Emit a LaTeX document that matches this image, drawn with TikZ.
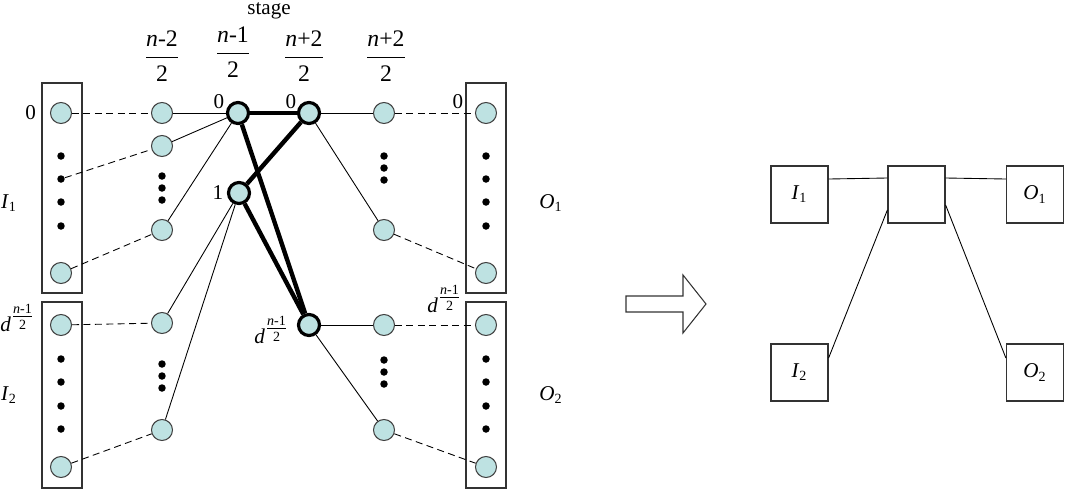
\documentclass[tikz,border=0pt]{standalone}
\usepackage{amsmath}
\usepackage{fontspec}
\setmainfont{Liberation Serif}
\usetikzlibrary{positioning, backgrounds}
\definecolor{vfill}{RGB}{190,226,226}
\newcommand{\idx}[2]{\textit{#1}\textsubscript{#2}}
\newcommand{\stfrac}[1]{{\fontsize{13.5}{16}\selectfont$\dfrac{\text{\textit{n}#1}}{\text{2}}$}}
\newcommand{\dpow}{\textit{d}$^{\genfrac{}{}{}{1}{\text{\textit{n}-1}}{\text{2}}}$}

\begin{document}
\begin{tikzpicture}[
    x=0.02cm, y=-0.02cm,
    font=\fontsize{12}{14}\selectfont,
    vtx/.style={circle, draw=black!75, fill=vfill, line width=0.6pt, minimum size=0.42cm, inner sep=0pt},
    hub/.style={vtx, draw=black, line width=1.8pt},
    dot/.style={circle, fill=black, minimum size=0.15cm, inner sep=0pt},
    grp/.style={draw=black!80, line width=0.6pt, minimum width=0.8cm, inner sep=0pt},
    blk/.style={draw=black!80, line width=0.7pt, minimum size=1.14cm, inner sep=0pt},
    lbl/.style={inner sep=1pt},
    wire/.style={line width=0.5pt},
    dwire/.style={wire, dash pattern=on 4pt off 2.5pt},
    heavy/.style={line width=2.5pt},
  ]
  \useasboundingbox (0,0) rectangle (1090,494);

  % --- Header ---
  \node[lbl] (stage) at (269,11) {stage};
  \node[lbl] (f1) at (162,56) {\stfrac{-2}};
  \node[lbl] (f2) at (233,52) {\stfrac{-1}};
  \node[lbl] (f3) at (304,56) {\stfrac{+2}};
  \node[lbl] (f4) at (386,56) {\stfrac{+2}};

  % --- Input groups ---
  \node[grp, minimum height=4.2cm] (I1box) at (62,188) {};
  \node[grp, minimum height=3.72cm] (I2box) at (62,395) {};
  \node[vtx] (in1a) at (61,113) {};
  \node[vtx] (in1b) at (61,273) {};
  \node[vtx] (in2a) at (61,325) {};
  \node[vtx] (in2b) at (61,467) {};
  \node[dot] (i1d1) at (61,156) {}; \node[dot] (i1d2) at (61,179) {};
  \node[dot] (i1d3) at (61,202) {}; \node[dot] (i1d4) at (61,226) {};
  \node[dot] (i2d1) at (61,359) {}; \node[dot] (i2d2) at (61,382) {};
  \node[dot] (i2d3) at (61,406) {}; \node[dot] (i2d4) at (61,429) {};
  \node[lbl, anchor=east] (z0) at (38,113) {0};
  \node[lbl, anchor=east] (dI) at (37,318) {\dpow};
  \node[lbl] (I1) at (9,203) {\idx{I}{1}};
  \node[lbl] (I2) at (9,395) {\idx{I}{2}};

  % --- Stage columns ---
  \node[vtx] (s1a) at (162,113) {};
  \node[vtx] (s1b) at (162,146) {};
  \node[vtx] (s1c) at (162,230) {};
  \node[vtx] (s1d) at (162,323) {};
  \node[vtx] (s1e) at (162,430) {};
  \node[dot] (c1u1) at (162,176) {}; \node[dot] (c1u2) at (162,188) {}; \node[dot] (c1u3) at (162,200) {};
  \node[dot] (c1l1) at (162,364) {}; \node[dot] (c1l2) at (162,376) {}; \node[dot] (c1l3) at (162,388) {};

  \node[hub] (s2a) at (238,113) {};
  \node[hub] (s2b) at (239,193) {};
  \node[hub] (s3a) at (309,113) {};
  \node[hub] (s3b) at (309,325) {};
  \node[lbl] (z2a) at (219,102) {0};
  \node[lbl] (z2b) at (218,193) {1};
  \node[lbl] (z3a) at (291,102) {0};
  \node[lbl, anchor=east] (d3b) at (291,330) {\dpow};

  \node[vtx] (s4a) at (384,113) {};
  \node[vtx] (s4b) at (384,230) {};
  \node[vtx] (s4c) at (384,325) {};
  \node[vtx] (s4d) at (384,430) {};
  \node[dot] (c4u1) at (384,156) {}; \node[dot] (c4u2) at (384,168) {}; \node[dot] (c4u3) at (384,180) {};
  \node[dot] (c4l1) at (384,360) {}; \node[dot] (c4l2) at (384,372) {}; \node[dot] (c4l3) at (384,384) {};

  % --- Output groups ---
  \node[grp, minimum height=4.2cm] (O1box) at (486,188) {};
  \node[grp, minimum height=3.72cm] (O2box) at (486,395) {};
  \node[vtx] (out1a) at (486,113) {};
  \node[vtx] (out1b) at (486,273) {};
  \node[vtx] (out2a) at (486,325) {};
  \node[vtx] (out2b) at (486,467) {};
  \node[dot] (o1d1) at (486,156) {}; \node[dot] (o1d2) at (486,179) {};
  \node[dot] (o1d3) at (486,202) {}; \node[dot] (o1d4) at (486,226) {};
  \node[dot] (o2d1) at (486,359) {}; \node[dot] (o2d2) at (486,382) {};
  \node[dot] (o2d3) at (486,406) {}; \node[dot] (o2d4) at (486,429) {};
  \node[lbl] (z5) at (458,102) {0};
  \node[lbl, anchor=east] (dO) at (464,299) {\dpow};
  \node[lbl] (O1) at (551,203) {\idx{O}{1}};
  \node[lbl] (O2) at (551,395) {\idx{O}{2}};

  % --- Dashed links to the groups ---
  \draw[dwire] (in1a) -- (s1a);
  \draw[dwire] (i1d2) -- (s1b);
  \draw[dwire] (in1b) -- (s1c);
  \draw[dwire] (in2a) -- (s1d);
  \draw[dwire] (in2b) -- (s1e);
  \draw[dwire] (s4a) -- (out1a);
  \draw[dwire] (s4b) -- (out1b);
  \draw[dwire] (s4c) -- (out2a);
  \draw[dwire] (s4d) -- (out2b);

  % --- Stage links ---
  \draw[wire] (s1a) -- (s2a);
  \draw[wire] (s1b) -- (s2a);
  \draw[wire] (s1c) -- (s2a);
  \draw[wire] (s1d) -- (s2b);
  \draw[wire] (s1e) -- (s2b);
  \draw[wire] (s3a) -- (s4a);
  \draw[wire] (s3a) -- (s4b);
  \draw[wire] (s3b) -- (s4c);
  \draw[wire] (s3b) -- (s4d);

  % --- Heavy core ---
  \draw[heavy] (s2a) -- (s3a);
  \draw[heavy] (s3a) -- (s2b);
  \draw[heavy] (s2a) -- (s3b);
  \draw[heavy] (s2b) -- (s3b);

  % --- Block arrow ---
  \draw[line width=0.6pt, draw=black!80] (626,296) -- (683,296) -- (683,275) -- (706,304)
    -- (683,333) -- (683,312) -- (626,312) -- cycle;

  % --- Reduced graph ---
  \node[blk] (rI1) at (799.5,194.5) {\idx{I}{1}};
  \node[blk] (rmid) at (916.5,194.5) {};
  \node[blk] (rO1) at (1035,194.5) {\idx{O}{1}};
  \node[blk] (rI2) at (799.5,372.5) {\idx{I}{2}};
  \node[blk] (rO2) at (1035,372.5) {\idx{O}{2}};

  \draw[wire] ([yshift=0.31cm]rI1.east) -- ([yshift=0.33cm]rmid.west);
  \draw[wire] ([yshift=0.33cm]rmid.east) -- ([yshift=0.31cm]rO1.west);
  \draw[wire] ([yshift=0.29cm]rI2.east) -- ([yshift=-0.31cm]rmid.west);
  \draw[wire] ([yshift=-0.21cm]rmid.east) -- ([yshift=0.29cm]rO2.west);

\end{tikzpicture}
\end{document}
